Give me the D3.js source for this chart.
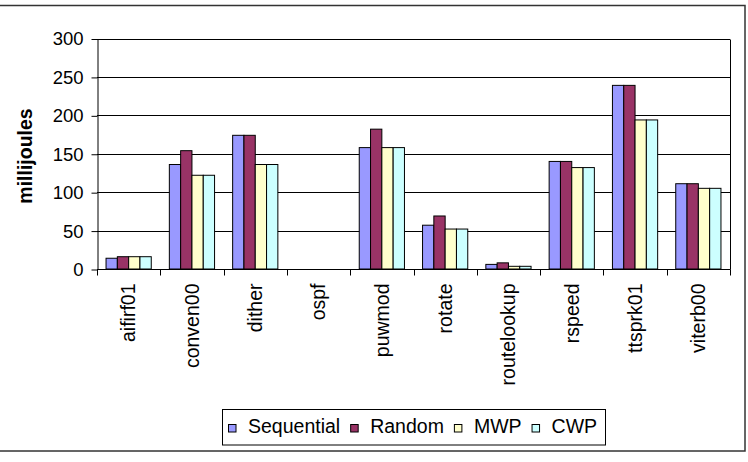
<!DOCTYPE html>
<html>
<head>
<meta charset="utf-8">
<script src="https://cdn.jsdelivr.net/npm/d3@7"></script>
<style>
  body { margin: 0; background: #fff; }
  text { font-family: "Liberation Sans", Arial, sans-serif; fill: #000; }
</style>
</head>
<body>
<svg id="chart" width="748" height="462"></svg>
<script>
const categories = ["aifirf01","conven00","dither","ospf","puwmod","rotate","routelookup","rspeed","ttsprk01","viterb00"];
const seriesNames = ["Sequential","Random","MWP","CWP"];
const sequential = [14, 136, 174, 0, 158, 57, 6, 140, 239, 111];
const random     = [16, 154, 174, 0, 182, 69, 8, 140, 239, 111];
const mwp        = [16, 122, 136, 0, 158, 52, 3.5, 132, 194, 105];
const cwp        = [16, 122, 136, 0, 158, 52, 3.5, 132, 194, 105];
const yTicks = [0, 50, 100, 150, 200, 250, 300];
const colors = ["#9999FF", "#993366", "#FFFFCC", "#CCFFFF"];

const seriesValues = [sequential, random, mwp, cwp];
const svg = d3.select("#chart");
svg.append("rect").attr("width", 748).attr("height", 462).attr("fill", "#fff");

// outer chart border
svg.append("rect").attr("x", -2).attr("y", 5.5).attr("width", 747).attr("height", 445.5)
  .attr("fill", "none").attr("stroke", "#333").attr("stroke-width", 1.5);

const L = 97, R = 730, T = 38.5, B = 269;
const x = d3.scaleBand().domain(categories).range([L, R]).padding(0);
const xs = d3.scaleBand().domain(seriesNames).range([0, x.bandwidth()]).paddingInner(0).paddingOuter(0.8);
const y = d3.scaleLinear().domain([0, 300]).range([B, T]);

// gridlines
svg.append("g").selectAll("line").data(yTicks.filter(d => d > 0)).join("line")
  .attr("x1", L).attr("x2", R).attr("y1", d => Math.round(y(d)) + 0.5).attr("y2", d => Math.round(y(d)) + 0.5)
  .attr("stroke", "#000").attr("stroke-width", 1);

// plot border (right)
svg.append("line").attr("x1", R + 0.5).attr("x2", R + 0.5).attr("y1", Math.round(T) + 0.5).attr("y2", B + 0.5)
  .attr("stroke", "#000");

// bars
const g = svg.append("g");
categories.forEach((c, i) => {
  seriesNames.forEach((s, j) => {
    const v = seriesValues[j][i];
    if (v <= 0) return;
    g.append("rect")
      .attr("x", x(c) + xs(s))
      .attr("y", y(v))
      .attr("width", xs.bandwidth())
      .attr("height", y(0) - y(v))
      .attr("fill", colors[j])
      .attr("stroke", "#000")
      .attr("stroke-width", 1);
  });
});

// y axis
const yAxis = d3.axisLeft(y).tickValues(yTicks).tickSize(6).tickPadding(8).tickSizeOuter(0);
const ya = svg.append("g").attr("transform", `translate(${L + 0.5},0.5)`).call(yAxis);
ya.select(".domain").attr("stroke", "#000");
ya.selectAll(".tick line").attr("stroke", "#000");
ya.selectAll("text").attr("font-size", "18.5px").attr("font-family", "Liberation Sans, Arial, sans-serif").attr("fill", "#000");

// x axis
const xa = svg.append("g").attr("transform", `translate(0,${B + 0.5})`);
xa.append("line").attr("x1", L).attr("x2", R + 0.5).attr("y1", 0).attr("y2", 0).attr("stroke", "#000");
xa.selectAll("line.tk").data(d3.range(categories.length + 1)).join("line").attr("class", "tk")
  .attr("x1", i => Math.round(L + i * x.step()) + 0.5).attr("x2", i => Math.round(L + i * x.step()) + 0.5)
  .attr("y1", 0).attr("y2", 6).attr("stroke", "#000");
xa.selectAll("text").data(categories).join("text")
  .attr("transform", d => `translate(${x(d) + x.bandwidth() / 2},14) rotate(-90)`)
  .attr("text-anchor", "end").attr("dy", "0.35em")
  .attr("font-size", "19.5px")
  .text(d => d);

// y label
svg.append("text")
  .attr("transform", "translate(32,156) rotate(-90)")
  .attr("text-anchor", "middle")
  .attr("font-size", "19.5px").attr("font-weight", "bold")
  .text("millijoules");

// legend
const lg = svg.append("g");
lg.append("rect").attr("x", 222.5).attr("y", 409.5).attr("width", 383).attr("height", 35.5)
  .attr("fill", "#fff").attr("stroke", "#000");
let cx = 228.5;
seriesNames.forEach((s, j) => {
  lg.append("rect").attr("x", cx).attr("y", 424.5).attr("width", 7.5).attr("height", 7.5)
    .attr("fill", colors[j]).attr("stroke", "#000");
  const t = lg.append("text").attr("x", cx + 19.5).attr("y", 433).attr("font-size", "19.5px").text(s);
  const w = t.node().getComputedTextLength();
  cx = cx + 19.5 + w + 10.5;
});
</script>
</body>
</html>
